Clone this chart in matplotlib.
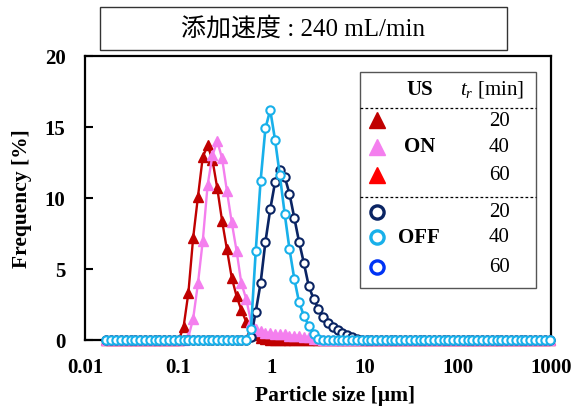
import matplotlib
matplotlib.use('Agg')
import matplotlib.pyplot as plt
from matplotlib.patches import Rectangle
from matplotlib.lines import Line2D
from matplotlib.ticker import NullLocator

plt.rcParams['font.family'] = ['Liberation Serif', 'Noto Sans CJK JP']
plt.rcParams['mathtext.fontset'] = 'custom'
plt.rcParams['mathtext.it'] = 'Liberation Serif:italic'
plt.rcParams['mathtext.rm'] = 'Liberation Serif'

# ---------------- data ----------------
title_text = "添加速度 : 240 mL/min"
xlabel = "Particle size [µm]"
ylabel = "Frequency [%]"
xtick_vals = [0.01, 0.1, 1, 10, 100, 1000]
xtick_labels = ["0.01", "0.1", "1", "10", "100", "1000"]
ytick_vals = [0, 5, 10, 15, 20]

# particle size channels [µm]
sizes = [0.01700, 0.01915, 0.02157, 0.02429, 0.02736, 0.03082, 0.03471, 0.03910, 0.04404, 0.04960,
         0.05587, 0.06293, 0.07088, 0.07983, 0.08992, 0.1013, 0.1141, 0.1285, 0.1447, 0.1630,
         0.1836, 0.2068, 0.2329, 0.2623, 0.2955, 0.3330, 0.3750, 0.4224, 0.4758, 0.5359,
         0.6034, 0.6797, 0.7655, 0.8623, 0.9712, 1.094, 1.232, 1.388, 1.563, 1.761,
         1.983, 2.234, 2.516, 2.834, 3.192, 3.595, 4.050, 4.561, 5.138, 5.787,
         6.519, 7.342, 8.270, 9.315, 10.49, 11.82, 13.32, 15.00, 16.89, 19.03,
         21.42, 24.13, 27.18, 30.61, 34.48, 38.85, 43.76, 49.29, 55.51, 62.53,
         70.41, 79.30, 89.32, 100.6, 113.3, 127.6, 143.7, 161.9, 182.3, 205.4,
         231.4, 260.6, 293.5, 330.6, 372.4, 419.5, 472.5, 532.2, 599.4, 675.1,
         760.4, 856.5, 964.7]

# US ON, tr = 20 min
on20 = [0, 0, 0, 0, 0, 0, 0, 0, 0, 0,
        0, 0, 0, 0, 0, 0, 0.9, 3.3, 7.2, 10.1,
        12.9, 13.7, 12.7, 10.7, 8.4, 6.4, 4.4, 3.1, 2.1, 1.3,
        0.65, 0.35, 0.15, 0.05, 0, 0, 0, 0, 0, 0,
        0, 0, 0, 0, 0, 0, 0, 0, 0, 0,
        0, 0, 0, 0, 0, 0, 0, 0, 0, 0,
        0, 0, 0, 0, 0, 0, 0, 0, 0, 0,
        0, 0, 0, 0, 0, 0, 0, 0, 0, 0,
        0, 0, 0, 0, 0, 0, 0, 0, 0, 0,
        0, 0, 0]

# US ON, tr = 40 min
on40 = [0, 0, 0, 0, 0, 0, 0, 0, 0, 0,
        0, 0, 0, 0, 0, 0, 0, 0.2, 1.5, 4.0,
        7.0, 10.9, 13.0, 14.0, 12.8, 10.5, 8.3, 6.3, 4.0, 2.9,
        1.3, 0.8, 0.6, 0.5, 0.5, 0.4, 0.4, 0.4, 0.3, 0.3,
        0.3, 0.2, 0.2, 0.1, 0.1, 0, 0, 0, 0, 0,
        0, 0, 0, 0, 0, 0, 0, 0, 0, 0,
        0, 0, 0, 0, 0, 0, 0, 0, 0, 0,
        0, 0, 0, 0, 0, 0, 0, 0, 0, 0,
        0, 0, 0, 0, 0, 0, 0, 0, 0, 0,
        0, 0, 0]

# US OFF, tr = 20 min
off20 = [0, 0, 0, 0, 0, 0, 0, 0, 0, 0,
         0, 0, 0, 0, 0, 0, 0, 0, 0, 0,
         0, 0, 0, 0, 0, 0, 0, 0, 0, 0,
         0.2, 2.0, 4.0, 6.9, 9.2, 11.1, 12.0, 11.5, 10.3, 8.6,
         6.9, 5.4, 3.8, 2.9, 2.2, 1.6, 1.2, 0.9, 0.7, 0.5,
         0.35, 0.2, 0.1, 0, 0, 0, 0, 0, 0, 0,
         0, 0, 0, 0, 0, 0, 0, 0, 0, 0,
         0, 0, 0, 0, 0, 0, 0, 0, 0, 0,
         0, 0, 0, 0, 0, 0, 0, 0, 0, 0,
         0, 0, 0]

# US OFF, tr = 40 min
off40 = [0, 0, 0, 0, 0, 0, 0, 0, 0, 0,
         0, 0, 0, 0, 0, 0, 0, 0, 0, 0,
         0, 0, 0, 0, 0, 0, 0, 0, 0, 0,
         0.75, 6.3, 11.2, 14.9, 16.2, 14.1, 11.6, 8.9, 6.4, 4.3,
         2.65, 1.7, 1.0, 0.45, 0.1, 0, 0, 0, 0, 0,
         0, 0, 0, 0, 0, 0, 0, 0, 0, 0,
         0, 0, 0, 0, 0, 0, 0, 0, 0, 0,
         0, 0, 0, 0, 0, 0, 0, 0, 0, 0,
         0, 0, 0, 0, 0, 0, 0, 0, 0, 0,
         0, 0, 0]

legend_us = ["ON", "OFF"]
legend_tr = ["20", "40", "60", "20", "40", "60"]

# ---------------- styles ----------------
C_ON20 = '#C00000'
C_ON40 = '#F47FEE'
C_ON60 = '#FF0000'
C_OFF20 = '#0A2463'
C_OFF40 = '#18B0EA'
C_OFF60 = '#0033F5'

W, H = 585, 410
fig = plt.figure(figsize=(W / 100, H / 100), dpi=100)


def fx(px):
    return px / W


def fy(py):
    return 1 - py / H


ax = fig.add_axes([fx(85), fy(341), fx(551) - fx(85), fy(57) - fy(341)])

tri_kw = dict(marker='^', markersize=6.6, linewidth=1.7, clip_on=False)
cir_kw = dict(marker='o', markersize=6.0, markerfacecolor='white', markeredgewidth=1.5,
              linewidth=1.9, clip_on=False)

ax.plot(sizes, on20, color=C_ON20, markerfacecolor=C_ON20, markeredgecolor=C_ON20, zorder=3, **tri_kw)
ax.plot(sizes, on40, color=C_ON40, markerfacecolor=C_ON40, markeredgecolor=C_ON40, zorder=4, **tri_kw)
ax.plot(sizes, off20, color=C_OFF20, markeredgecolor=C_OFF20, zorder=5, **cir_kw)
ax.plot(sizes, off40, color=C_OFF40, markeredgecolor=C_OFF40, zorder=6, **cir_kw)

ax.set_xscale('log')
ax.set_xlim(0.01, 1000)
ax.set_ylim(0, 20)
ax.set_xticks(xtick_vals)
ax.set_xticklabels(xtick_labels)
ax.xaxis.set_minor_locator(NullLocator())
ax.set_yticks(ytick_vals)
ax.tick_params(axis='y', direction='in', length=6, width=1.5, pad=14, labelsize=15)
ax.tick_params(axis='x', length=0, pad=12, labelsize=15)
for lab in ax.get_xticklabels() + ax.get_yticklabels():
    lab.set_fontweight('bold')
for sp in ax.spines.values():
    sp.set_linewidth(1.6)
    sp.set_color('black')

fig.text(fx(335), fy(396), xlabel, ha='center', va='center', fontsize=15.5, fontweight='bold')
fig.text(fx(22), fy(199), ylabel, ha='center', va='center', fontsize=15.5, fontweight='bold',
         rotation=90)

# title box
fig.patches.append(Rectangle((fx(100), fy(51)), fx(507) - fx(100), fy(8) - fy(51),
                             transform=fig.transFigure, facecolor='white',
                             edgecolor='#333333', linewidth=1.0))
fig.text(fx(303), fy(29), title_text, ha='center', va='center', fontsize=18)

# legend box
lg_l, lg_r, lg_t, lg_b = 360, 536, 72.5, 289
fig.patches.append(Rectangle((fx(lg_l), fy(lg_b)), fx(lg_r) - fx(lg_l), fy(lg_t) - fy(lg_b),
                             transform=fig.transFigure, facecolor='white',
                             edgecolor='#555555', linewidth=1.0, zorder=10))
fig.text(fx(420), fy(90), "US", ha='center', va='center', fontsize=15, fontweight='bold', zorder=11)
fig.text(fx(492), fy(90), r"$t_r$ [min]", ha='center', va='center', fontsize=15, zorder=11)
for yy in (108.5, 198):
    fig.add_artist(Line2D([fx(lg_l), fx(lg_r)], [fy(yy), fy(yy)], transform=fig.transFigure,
                          color='black', linewidth=0.9, linestyle=(0, (2.2, 1.8)), zorder=11))

row_y = [121, 147.5, 176, 212.5, 238, 267.5]
row_markers = ['^', '^', '^', 'o', 'o', 'o']
row_colors = [C_ON20, C_ON40, C_ON60, C_OFF20, C_OFF40, C_OFF60]
for yy, mk, col, lab in zip(row_y, row_markers, row_colors, legend_tr):
    if mk == '^':
        fig.add_artist(Line2D([fx(377)], [fy(yy)], transform=fig.transFigure, marker='^',
                              markersize=11, color=col, linestyle='none', zorder=12))
    else:
        fig.add_artist(Line2D([fx(377)], [fy(yy)], transform=fig.transFigure, marker='o',
                              markersize=9.5, markerfacecolor='white', markeredgecolor=col,
                              markeredgewidth=2.4, linestyle='none', zorder=12))
    fig.text(fx(499), fy(yy), lab, ha='center', va='center', fontsize=15, zorder=12)

fig.text(fx(420), fy(147.5), legend_us[0], ha='center', va='center', fontsize=15,
         fontweight='bold', zorder=12)
fig.text(fx(419), fy(238), legend_us[1], ha='center', va='center', fontsize=15,
         fontweight='bold', zorder=12)

fig.savefig('out.png', dpi=100)
